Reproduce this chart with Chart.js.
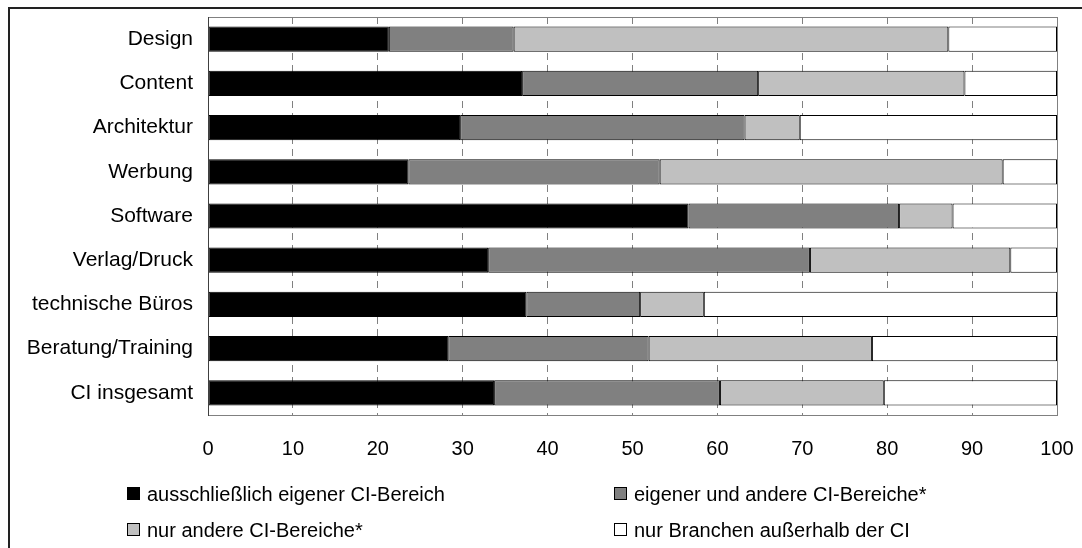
<!DOCTYPE html>
<html lang="de">
<head>
<meta charset="UTF-8">
<title>CI-Bereiche</title>
<style>
  html, body { margin: 0; padding: 0; background: #fff; }
  #wrap { position: relative; width: 1082px; height: 548px; overflow: hidden; }
  #frame { position: absolute; left: 8px; top: 7px; width: 1200px; height: 700px;
           border-left: 2px solid #222; border-top: 2px solid #222; box-sizing: border-box; }
  #chart { position: absolute; left: 0; top: 0; }
  .leg { position: absolute; font: 20px "Liberation Sans", Arial, sans-serif; color: #000;
         white-space: nowrap; line-height: 20px; }
  .leg span.box { position: absolute; left: 0; top: 3px; width: 13px; height: 13px;
                  border: 1px solid #000; box-sizing: border-box; }
  .leg span.txt { position: absolute; left: 20px; top: 0; }
</style>
</head>
<body>
<script src="https://cdn.jsdelivr.net/npm/chart.js"></script>
<div id="wrap">
  <div id="frame"></div>
  <canvas id="chart" width="1082" height="548"></canvas>
</div>
<script>
  // categories (top to bottom)
  const categories = ['Design', 'Content', 'Architektur', 'Werbung', 'Software',
    'Verlag/Druck', 'technische Büros', 'Beratung/Training', 'CI insgesamt'];

  // shares in percent
  const own         = [21.3, 37.0, 29.7, 23.6, 56.6, 33.0, 37.5, 28.3, 33.7];
  const ownAndOther = [14.7, 27.8, 33.5, 29.6, 24.8, 37.9, 13.4, 23.6, 26.6];
  const otherOnly   = [51.2, 24.3, 6.5, 40.4, 6.3, 23.6, 7.5, 26.3, 19.3];
  const outside     = [12.8, 10.9, 30.3, 6.4, 12.3, 5.5, 41.6, 21.8, 20.4];

  const seriesNames = ['ausschließlich eigener CI-Bereich', 'eigener und andere CI-Bereiche*',
    'nur andere CI-Bereiche*', 'nur Branchen außerhalb der CI'];
  const seriesColors = ['#000000', '#808080', '#c0c0c0', '#ffffff'];
  const xTicks = [0, 10, 20, 30, 40, 50, 60, 70, 80, 90, 100];

  const FONT = '"Liberation Sans", Arial, sans-serif';

  const plotBorder = {
    id: 'plotBorder',
    afterDraw(chart) {
      const a = chart.chartArea, ctx = chart.ctx;
      ctx.save();
      ctx.strokeStyle = '#808080';
      ctx.lineWidth = 1;
      ctx.strokeRect(a.left + 0.5, a.top + 0.5, a.right - a.left, a.bottom - a.top);
      ctx.strokeStyle = '#404040';
      ctx.beginPath();
      ctx.moveTo(a.left + 0.5, a.top);
      ctx.lineTo(a.left + 0.5, a.bottom + 1);
      ctx.stroke();
      ctx.restore();
    }
  };

  const values = [own, ownAndOther, otherOnly, outside];
  const datasets = values.map((v, i) => ({
    label: seriesNames[i],
    data: v,
    backgroundColor: seriesColors[i],
    borderColor: '#000',
    borderWidth: 1,
    borderSkipped: false,
    categoryPercentage: 1,
    barPercentage: 0.57
  }));

  new Chart(document.getElementById('chart'), {
    type: 'bar',
    data: { labels: categories, datasets: datasets },
    options: {
      indexAxis: 'y',
      responsive: false,
      animation: false,
      layout: { padding: { left: 8, top: 17, right: 25, bottom: 93 } },
      plugins: { legend: { display: false }, tooltip: { enabled: false } },
      scales: {
        x: {
          stacked: true,
          min: 0,
          max: 100,
          afterBuildTicks(scale) { scale.ticks = xTicks.map(v => ({ value: v })); },
          afterFit(scale) {
            scale.height = 40;
            scale.paddingLeft = 0;
            scale.paddingRight = 0;
          },
          grid: { color: '#808080', lineWidth: 1, drawTicks: false },
          border: { display: false, dash: [7, 5] },
          ticks: { color: '#000', font: { family: FONT, size: 20 }, padding: 22, maxRotation: 0 }
        },
        y: {
          stacked: true,
          afterFit(scale) {
            scale.width = 200;
            scale.paddingTop = 0;
            scale.paddingBottom = 0;
          },
          grid: { display: false, drawTicks: false },
          border: { display: false },
          ticks: { color: '#000', font: { family: FONT, size: 21 }, padding: 15 }
        }
      }
    },
    plugins: [plotBorder]
  });

  // legend in two columns, built from the series arrays
  const legPos = [[127, 484], [614, 484], [127, 520], [614, 520]];
  const wrap = document.getElementById('wrap');
  seriesNames.forEach((name, i) => {
    const d = document.createElement('div');
    d.className = 'leg';
    d.style.left = legPos[i][0] + 'px';
    d.style.top = legPos[i][1] + 'px';
    d.innerHTML = '<span class="box" style="background:' + seriesColors[i] + '"></span>' +
      '<span class="txt">' + name + '</span>';
    wrap.appendChild(d);
  });
</script>
</body>
</html>
